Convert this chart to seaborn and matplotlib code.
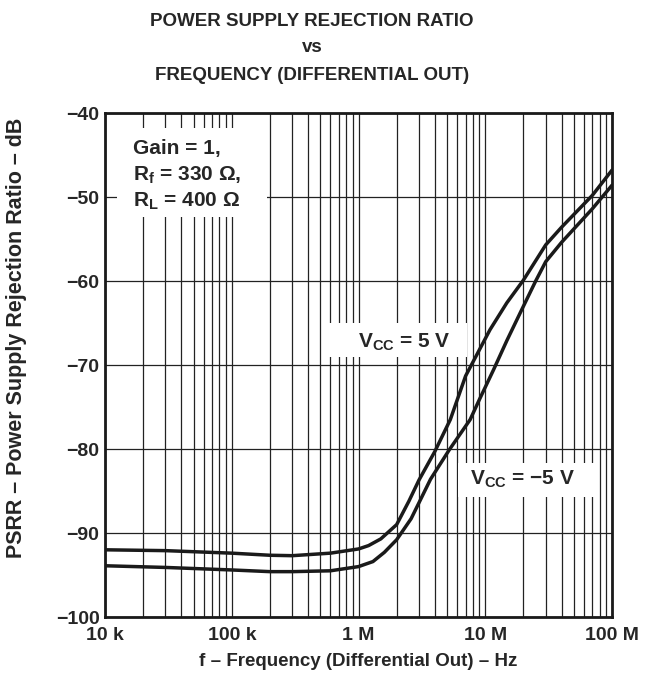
import numpy as np
import pandas as pd
import matplotlib
matplotlib.use("Agg")
import matplotlib.pyplot as plt
from matplotlib.patches import Rectangle
import seaborn as sns

freq_5v = [1e4, 3e4, 1e5, 2e5, 3e5, 6e5, 1e6, 1.2e6, 1.5e6, 2e6, 2.5e6, 3e6,
           4e6, 5.3e6, 7e6, 1.09e7, 1.48e7, 2e7, 3e7, 4e7, 7e7, 1e8]
psrr_5v = [-92.0, -92.1, -92.4, -92.65, -92.7, -92.4, -91.9, -91.5, -90.7, -89.0, -86.2, -83.7,
           -80.3, -76.5, -71.3, -65.8, -62.6, -59.9, -55.7, -53.6, -49.8, -46.8]

freq_m5v = [1e4, 3e4, 1e5, 2e5, 3e5, 6e5, 1e6, 1.3e6, 1.6e6, 2e6, 2.6e6, 3e6,
            3.7e6, 5.2e6, 7.6e6, 9e6, 1.16e7, 1.48e7, 1.9e7, 2.5e7, 3e7, 4e7, 7e7, 1e8]
psrr_m5v = [-93.9, -94.1, -94.4, -94.6, -94.6, -94.5, -94.0, -93.4, -92.3, -90.8, -88.3, -86.4,
            -83.6, -80.1, -76.5, -74.1, -70.6, -67.1, -63.7, -60.0, -57.7, -55.4, -51.4, -48.6]

x_ticks = [1e4, 1e5, 1e6, 1e7, 1e8]
x_labels = ["10 k", "100 k", "1 M", "10 M", "100 M"]
y_ticks = [-100, -90, -80, -70, -60, -50, -40]

title_lines = ["POWER SUPPLY REJECTION RATIO", "vs", "FREQUENCY (DIFFERENTIAL OUT)"]
cond_lines = ["Gain = 1,", "R$_\\mathbf{f}$ = 330 \u03a9,", "R$_\\mathbf{L}$ = 400 \u03a9"]

df = pd.concat([
    pd.DataFrame({"f": freq_5v, "psrr": psrr_5v, "vcc": "5 V"}),
    pd.DataFrame({"f": freq_m5v, "psrr": psrr_m5v, "vcc": "-5 V"}),
])

sns.set_style("white")
plt.rcParams['font.family'] = ['Liberation Sans', 'DejaVu Sans']
plt.rcParams['mathtext.fontset'] = 'custom'
plt.rcParams['mathtext.rm'] = 'Liberation Sans'
plt.rcParams['mathtext.bf'] = 'Liberation Sans:bold'
plt.rcParams['mathtext.it'] = 'Liberation Sans:italic'

W, H = 647, 679
fig = plt.figure(figsize=(W / 100, H / 100), dpi=100)
ax = fig.add_axes([105 / W, 1 - 617 / H, (612 - 105) / W, (617 - 113) / H])

sns.lineplot(data=df, x="f", y="psrr", hue="vcc", palette=["#1a1a1a", "#1a1a1a"],
             linewidth=2.5, legend=False, ax=ax, zorder=4, sort=False, estimator=None)

ax.set_xscale("log")
ax.set_xlim(1e4, 1e8)
ax.set_ylim(-100, -40)
ax.set_xticks(x_ticks)
ax.set_xticklabels(x_labels)
ax.xaxis.set_minor_locator(matplotlib.ticker.LogLocator(base=10, subs=np.arange(2, 10)))
ax.xaxis.set_minor_formatter(matplotlib.ticker.NullFormatter())
ax.set_yticks(y_ticks)
ax.set_yticklabels(["\u2212%d" % abs(v) for v in y_ticks])
ax.tick_params(which="both", length=0, labelsize=14)
ax.tick_params(axis="x", pad=7)
ax.tick_params(axis="y", pad=4)
for lbl in ax.get_xticklabels() + ax.get_yticklabels():
    lbl.set_fontweight("bold")

ax.grid(which="major", axis="both", color="#222222", linewidth=0.9)
ax.grid(which="minor", axis="x", color="#222222", linewidth=0.9)
for s in ax.spines.values():
    s.set_linewidth(2.0)
    s.set_color("#1a1a1a")

ax.set_xlabel("")
ax.set_ylabel("")
fig.text(358 / W, 1 - 662 / H, "f \u2013 Frequency (Differential Out) \u2013 Hz", fontsize=13.5,
         fontweight="bold", ha="center", va="center")
fig.text(17 / W, 1 - 338 / H, "PSRR \u2013 Power Supply Rejection Ratio \u2013 dB", fontsize=15.5,
         fontweight="bold", ha="center", va="center", rotation=90)

for yy, line in zip([21, 48, 76], title_lines):
    fig.text(312 / W, 1 - yy / H, line, fontsize=13.5, fontweight="bold", ha="center", va="center")

# white patches that break the grid behind the notes
for (x0, x1, y0, y1) in [(1.24e4, 1.9e5, -52.4, -41.8),
                         (5.15e5, 7.2e6, -69.05, -65.0),
                         (6.1e6, 7.35e7, -85.7, -81.65)]:
    ax.add_patch(Rectangle((x0, y0), x1 - x0, y1 - y0, facecolor="white",
                           edgecolor="none", zorder=2))

for yy, line in zip([-44.9, -48.1, -51.1], cond_lines):
    ax.text(1.66e4, yy, line, fontsize=15, fontweight="bold", va="baseline", ha="left", zorder=3)

ax.text(9.9e5, -67.9, "V$_\\mathbf{CC}$ = 5 V", fontsize=15, fontweight="bold",
        va="baseline", ha="left", zorder=3)
ax.text(7.6e6, -84.3, "V$_\\mathbf{CC}$ = \u22125 V", fontsize=15, fontweight="bold",
        va="baseline", ha="left", zorder=3)

fig.savefig("out.png", dpi=100)
